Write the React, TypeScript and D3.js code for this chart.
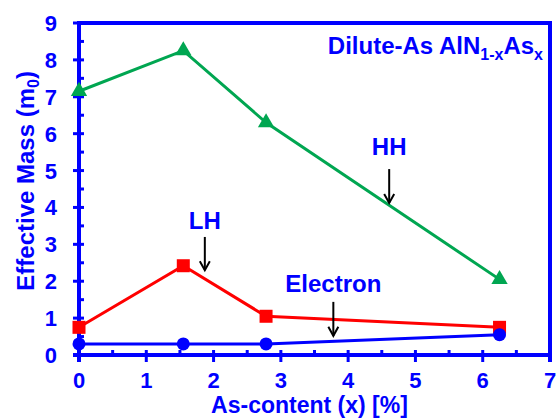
import React from 'react';
import * as d3 from 'd3';

// As content (%) and effective masses (m0)
const asContent = [0, 1.55, 2.78, 6.25];
const hhMass = [7.15, 8.25, 6.3, 2.05];
const lhMass = [0.75, 2.42, 1.05, 0.75];
const electronMass = [0.3, 0.3, 0.3, 0.55];

const xTicks = [0, 1, 2, 3, 4, 5, 6, 7];
const yTicks = [0, 1, 2, 3, 4, 5, 6, 7, 8, 9];

// label text, label position, arrow from/to (data coords)
const notes = [
  { text: 'HH', x: 4.61, y: 5.42, ay1: 5.04, ay2: 4.12 },
  { text: 'LH', x: 1.87, y: 3.42, ay1: 3.2, ay2: 2.3 },
  { text: 'Electron', x: 3.78, y: 1.71, ay1: 1.44, ay2: 0.52 },
];

const W = 557;
const H = 419;
const BLUE = '#0000ff';
const GREEN = '#00a651';
const RED = '#ff0000';
const FONT = '"Liberation Sans", Arial, sans-serif';

export default function App() {
  const x = d3.scaleLinear().domain([0, 7]).range([79, 550]);
  const y = d3.scaleLinear().domain([0, 9]).range([355, 23]);

  const line = d3.line<number>()
    .x((_, i) => x(asContent[i]))
    .y(d => y(d));

  const xMinor = d3.range(0.5, 7, 1);
  const yMinor = d3.range(0.5, 9, 1);

  const tri = d3.symbol().type(d3.symbolTriangle).size(115)();

  return (
    <>
      <style>{'body{margin:0}'}</style>
      <svg width={W} height={H} style={{ display: 'block', fontFamily: FONT }}>
        <rect width={W} height={H} fill="#fff" />

        {/* frame */}
        <line x1={x(0)} x2={x(7)} y1={y(9)} y2={y(9)} stroke={BLUE} strokeWidth={4} />
        <line x1={x(7)} x2={x(7)} y1={y(9) - 2} y2={y(0) + 7} stroke={BLUE} strokeWidth={4} />
        <line x1={x(0)} x2={x(0)} y1={y(9) - 2} y2={y(0) + 7} stroke={BLUE} strokeWidth={4} />
        <line x1={x(0) - 6} x2={x(7) + 2} y1={y(0)} y2={y(0)} stroke={BLUE} strokeWidth={4} />

        {/* x ticks */}
        {xTicks.map(t => (
          <g key={'xt' + t}>
            <line x1={x(t)} x2={x(t)} y1={y(0) - 5} y2={y(0) + 7} stroke={BLUE} strokeWidth={3} />
            <text x={x(t)} y={388} textAnchor="middle" fontSize={22} fontWeight="bold" fill={BLUE}>{t}</text>
          </g>
        ))}
        {xMinor.map(t => (
          <line key={'xm' + t} x1={x(t)} x2={x(t)} y1={y(0) - 5} y2={y(0)} stroke={BLUE} strokeWidth={3} />
        ))}

        {/* y ticks */}
        {yTicks.map(t => (
          <g key={'yt' + t}>
            <line x1={x(0) - 6} x2={x(0) + 5} y1={y(t)} y2={y(t)} stroke={BLUE} strokeWidth={3} />
            <text x={57} y={y(t) + 8} textAnchor="end" fontSize={22} fontWeight="bold" fill={BLUE}>{t}</text>
          </g>
        ))}
        {yMinor.map(t => (
          <line key={'ym' + t} x1={x(0)} x2={x(0) + 5} y1={y(t)} y2={y(t)} stroke={BLUE} strokeWidth={3} />
        ))}

        {/* axis titles */}
        <text x={(x(0) + x(7)) / 2 - 5} y={413} textAnchor="middle" fontSize={23} fontWeight="bold" fill={BLUE}>
          As-content (x) [%]
        </text>
        <text transform={`translate(34,${y(4.72)}) rotate(-90)`} textAnchor="middle" fontSize={24} fontWeight="bold" fill={BLUE}>
          Effective Mass (m<tspan fontSize={16} dy={5}>0</tspan><tspan dy={-5}>)</tspan>
        </text>

        {/* title */}
        <text x={543} y={54} textAnchor="end" fontSize={24} fontWeight="bold" fill={BLUE}>
          Dilute-As AlN<tspan fontSize={16} dy={6}>1-x</tspan><tspan dy={-6}>As</tspan><tspan fontSize={16} dy={6}>x</tspan>
        </text>

        {/* series */}
        <path d={line(hhMass) || ''} fill="none" stroke={GREEN} strokeWidth={3} />
        {hhMass.map((v, i) => (
          <path key={'hh' + i} d={tri || ''} transform={`translate(${x(asContent[i])},${y(v)})`} fill={GREEN} />
        ))}

        <path d={line(lhMass) || ''} fill="none" stroke={RED} strokeWidth={3} />
        {lhMass.map((v, i) => (
          <rect key={'lh' + i} x={x(asContent[i]) - 6.5} y={y(v) - 6.5} width={13} height={13} fill={RED} />
        ))}

        <path d={line(electronMass) || ''} fill="none" stroke={BLUE} strokeWidth={3} />
        {electronMass.map((v, i) => (
          <circle key={'el' + i} cx={x(asContent[i])} cy={y(v)} r={6.5} fill={BLUE} />
        ))}

        {/* annotations */}
        {notes.map(n => (
          <g key={n.text}>
            <text x={x(n.x)} y={y(n.y)} textAnchor="middle" fontSize={24} fontWeight="bold" fill={BLUE}>{n.text}</text>
            <line x1={x(n.x)} x2={x(n.x)} y1={y(n.ay1)} y2={y(n.ay2)} stroke="#000" strokeWidth={2} />
            <path
              d={`M${x(n.x) - 5},${y(n.ay2) - 9} L${x(n.x)},${y(n.ay2)} L${x(n.x) + 5},${y(n.ay2) - 9}`}
              fill="none" stroke="#000" strokeWidth={2}
            />
          </g>
        ))}
      </svg>
    </>
  );
}
